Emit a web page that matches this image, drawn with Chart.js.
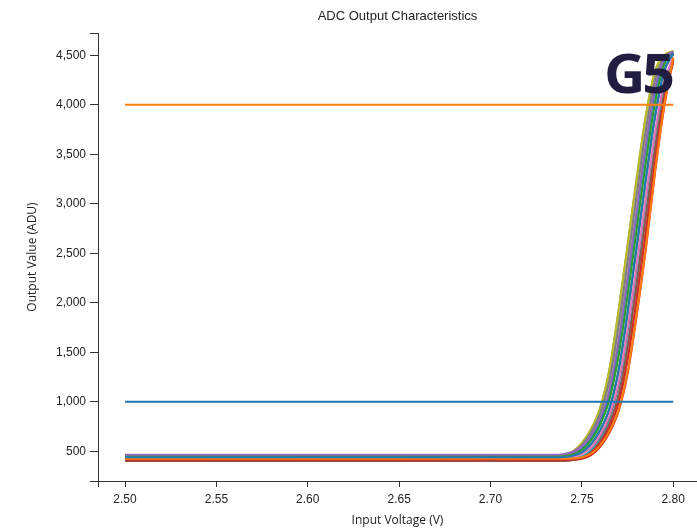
<!DOCTYPE html>
<html>
<head>
<meta charset="utf-8">
<title>ADC Output Characteristics</title>
<script src="https://cdn.jsdelivr.net/npm/chart.js@4"></script>
<style>
  html, body { margin: 0; padding: 0; background: #fff; }
  #wrap { width: 697px; height: 529px; position: relative; }
</style>
</head>
<body>
<div id="wrap"><canvas id="adcChart"></canvas></div>
<script>
// input sweep (V) shared by every channel
var vin = [2.50, 2.60, 2.70, 2.735, 2.74, 2.745, 2.75, 2.755, 2.76, 2.765, 2.77, 2.775, 2.78, 2.785, 2.79, 2.795, 2.80];

// measured output per channel (ADU)
var ch01 = [440, 441, 439, 440, 442, 454, 490, 575, 715, 930, 1310, 1900, 2570, 3250, 3880, 4340, 4520];
var ch02 = [425, 424, 426, 425, 425, 427, 439, 475, 560, 700, 915, 1295, 1885, 2555, 3325, 3985, 4475];
var ch03 = [445, 446, 444, 445, 449, 466, 513, 610, 767, 1015, 1455, 2070, 2745, 3420, 4015, 4405, 4510];
var ch04 = [415, 414, 416, 415, 415, 419, 436, 483, 580, 737, 985, 1425, 2040, 2715, 3415, 4035, 4445];
var ch05 = [465, 466, 464, 465, 471, 493, 550, 660, 835, 1115, 1615, 2255, 2935, 3605, 4165, 4460, 4535];
var ch06 = [405, 406, 404, 405, 405, 411, 433, 490, 600, 775, 1055, 1555, 2195, 2875, 3545, 4105, 4425];
var ch07 = [430, 431, 429, 430, 431, 440, 469, 540, 665, 860, 1190, 1735, 2390, 3070, 3720, 4230, 4480];
var ch08 = [455, 454, 456, 456, 465, 494, 565, 690, 885, 1215, 1760, 2415, 3095, 3745, 4255, 4480, 4540];
var ch09 = [450, 451, 449, 452, 464, 500, 585, 725, 940, 1320, 1910, 2580, 3260, 3890, 4340, 4500, 4545];
var ch10 = [420, 419, 421, 420, 420, 426, 448, 505, 615, 790, 1070, 1570, 2210, 2890, 3560, 4120, 4440];
var ch11 = [432, 433, 431, 432, 438, 460, 517, 627, 802, 1082, 1582, 2222, 2902, 3572, 4132, 4440, 4515];
var ch12 = [418, 419, 417, 418, 418, 422, 439, 486, 583, 740, 988, 1428, 2043, 2718, 3418, 4038, 4448];
var ch13 = [438, 437, 439, 438, 440, 452, 488, 573, 713, 928, 1308, 1898, 2568, 3248, 3878, 4338, 4518];
var ch14 = [410, 411, 409, 410, 410, 412, 424, 460, 545, 685, 900, 1280, 1870, 2540, 3310, 3970, 4460];
var ch15 = [460, 461, 459, 460, 464, 481, 528, 625, 782, 1030, 1470, 2085, 2760, 3435, 4030, 4410, 4520];
var ch16 = [402, 401, 403, 402, 403, 412, 441, 512, 637, 832, 1162, 1707, 2362, 3042, 3692, 4202, 4452];
var ch17 = [428, 429, 427, 428, 430, 442, 478, 563, 703, 918, 1298, 1888, 2558, 3238, 3868, 4328, 4508];
var ch18 = [448, 447, 449, 450, 462, 498, 583, 723, 938, 1318, 1908, 2578, 3258, 3888, 4335, 4495, 4540];
var ch19 = [442, 443, 441, 443, 452, 481, 552, 677, 872, 1202, 1747, 2402, 3082, 3732, 4242, 4470, 4530];
var ch20 = [422, 421, 423, 422, 422, 426, 443, 490, 587, 744, 992, 1432, 2047, 2722, 3422, 4042, 4452];

var channels = [ch01, ch02, ch03, ch04, ch05, ch06, ch07, ch08, ch09, ch10,
                ch11, ch12, ch13, ch14, ch15, ch16, ch17, ch18, ch19, ch20];

// limit lines
var limitRange = [2.50, 2.80];
var upperLimit = [4000, 4000];
var lowerLimit = [1000, 1000];

// axis ticks
var xTicks = [2.50, 2.55, 2.60, 2.65, 2.70, 2.75, 2.80];
var yTicks = [500, 1000, 1500, 2000, 2500, 3000, 3500, 4000, 4500];

var palette = ["#1f77b4", "#ff7f0e", "#2ca02c", "#d62728", "#9467bd",
               "#8c564b", "#e377c2", "#7f7f7f", "#bcbd22", "#17becf"];
var axisColor = "#333";
var textColor = "#222";

function points(xs, ys) {
  return xs.map(function(x, i) { return { x: x, y: ys[i] }; });
}

var datasets = [
  { label: "Upper", data: points(limitRange, upperLimit), borderColor: "#ff7f0e", borderWidth: 2, pointRadius: 0 },
  { label: "Lower", data: points(limitRange, lowerLimit), borderColor: "#1f77b4", borderWidth: 2, pointRadius: 0 }
];
channels.forEach(function(ch, i) {
  datasets.push({
    label: "CH" + (i + 1),
    data: points(vin, ch),
    borderColor: palette[i % palette.length],
    borderWidth: 2,
    pointRadius: 0,
    cubicInterpolationMode: "monotone"
  });
});

// d3-style outer ticks at the ends of both axes
var outerTicks = {
  id: "outerTicks",
  afterDraw: function(chart) {
    var ctx = chart.ctx, a = chart.chartArea;
    ctx.save();
    ctx.strokeStyle = axisColor;
    ctx.lineWidth = 1;
    ctx.beginPath();
    ctx.moveTo(a.left - 8, Math.round(a.top) + 0.5);
    ctx.lineTo(a.left, Math.round(a.top) + 0.5);
    ctx.moveTo(a.left - 8, Math.round(a.bottom) + 0.5);
    ctx.lineTo(a.left, Math.round(a.bottom) + 0.5);
    ctx.moveTo(Math.round(a.left) + 0.5, a.bottom);
    ctx.lineTo(Math.round(a.left) + 0.5, a.bottom + 6);
    ctx.stroke();
    ctx.restore();
  }
};

// group tag in the top right corner
var groupTag = {
  id: "groupTag",
  afterDraw: function(chart) {
    var ctx = chart.ctx;
    ctx.save();
    ctx.fillStyle = "#201d40";
    ctx.font = "bold 54px 'Open Sans'";
    ctx.letterSpacing = "-3px";
    ctx.textBaseline = "alphabetic";
    ctx.textAlign = "left";
    ctx.translate(604, 93);
    ctx.scale(1.06, 1);
    ctx.fillText("G5", 0, 0);
    ctx.restore();
  }
};

Chart.defaults.font.family = "'Liberation Sans', Arial, sans-serif";
Chart.defaults.color = textColor;

var ctx = document.getElementById("adcChart").getContext("2d");
var chart = new Chart(ctx, {
  type: "line",
  data: { datasets: datasets },
  plugins: [outerTicks, groupTag],
  options: {
    responsive: true,
    maintainAspectRatio: false,
    animation: false,
    layout: { padding: 0 },
    plugins: {
      legend: { display: false },
      tooltip: { enabled: false },
      title: {
        display: true,
        text: "ADC Output Characteristics",
        fullSize: false,
        color: textColor,
        font: { size: 13, weight: "normal" },
        padding: { top: 8.4, bottom: 9 }
      }
    },
    scales: {
      x: {
        type: "linear",
        min: 2.4852,
        max: 2.813,
        afterBuildTicks: function(s) { s.ticks = xTicks.map(function(v) { return { value: v }; }); },
        afterFit: function(s) { s.height = 48; },
        grid: { drawOnChartArea: false, drawTicks: true, tickLength: 6, color: axisColor },
        border: { color: axisColor, width: 1 },
        ticks: {
          font: { size: 12 },
          color: textColor,
          padding: 5,
          maxRotation: 0,
          callback: function(v) { return v.toFixed(2); }
        },
        title: {
          display: true,
          text: "Input Voltage (V)",
          color: textColor,
          font: { family: "'Open Sans'", size: 12 },
          padding: { top: 0, bottom: 0.8 }
        }
      },
      y: {
        type: "linear",
        min: 200,
        max: 4725,
        afterBuildTicks: function(s) { s.ticks = yTicks.map(function(v) { return { value: v }; }); },
        afterFit: function(s) { s.width = 98; },
        grid: { drawOnChartArea: false, drawTicks: true, tickLength: 8, color: axisColor },
        border: { color: axisColor, width: 1 },
        ticks: {
          font: { size: 12 },
          color: textColor,
          padding: 4,
          callback: function(v) { return v.toLocaleString("en-US"); }
        },
        title: {
          display: true,
          text: "Output Value (ADU)",
          color: textColor,
          font: { family: "'Open Sans'", size: 12 },
          padding: { top: 25.8, bottom: 0 }
        }
      }
    }
  }
});
</script>
</body>
</html>
